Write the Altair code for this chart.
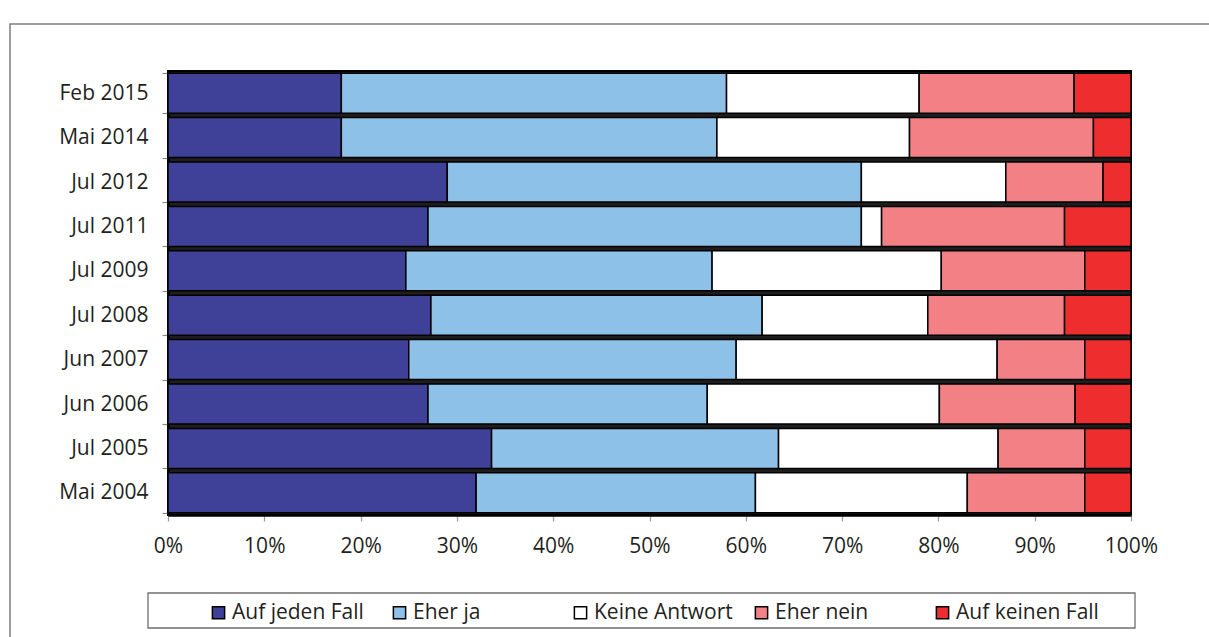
import altair as alt
import pandas as pd

# Survey waves, top to bottom
dates = ["Feb 2015", "Mai 2014", "Jul 2012", "Jul 2011", "Jul 2009",
         "Jul 2008", "Jun 2007", "Jun 2006", "Jul 2005", "Mai 2004"]

# Answer categories, left to right in each bar
categories = ["Auf jeden Fall", "Eher ja", "Keine Antwort", "Eher nein", "Auf keinen Fall"]
colors = ["#3f4199", "#8ec1e8", "#ffffff", "#f28084", "#ee2e2e"]

# Shares in percent per wave
auf_jeden_fall = [18, 18, 29, 27, 24.7, 27.3, 25, 27, 33.6, 32]
eher_ja = [40, 39, 43, 45, 31.8, 34.4, 34, 29, 29.8, 29]
keine_antwort = [20, 20, 15, 2.1, 23.8, 17.2, 27.1, 24.1, 22.8, 22]
eher_nein = [16.1, 19.1, 10.1, 19, 14.9, 14.2, 9.1, 14.1, 9, 12.2]
auf_keinen_fall = [5.9, 3.9, 2.9, 6.9, 4.8, 6.9, 4.8, 5.8, 4.8, 4.8]

x_ticks = [0, 0.1, 0.2, 0.3, 0.4, 0.5, 0.6, 0.7, 0.8, 0.9, 1.0]

series = [auf_jeden_fall, eher_ja, keine_antwort, eher_nein, auf_keinen_fall]
rows = []
for ci, (cat, vals) in enumerate(zip(categories, series)):
    for d, v in zip(dates, vals):
        rows.append({"Datum": d, "Antwort": cat, "Anteil": v, "Reihenfolge": ci})
df = pd.DataFrame(rows)

FONT = "Open Sans"
TEXT = "#231f20"
W, H = 963, 444
PAD_L, PAD_T = 168, 71

bars = alt.Chart(df).mark_bar(stroke="black", strokeWidth=1.5).encode(
    x=alt.X(
        "Anteil:Q",
        stack="normalize",
        scale=alt.Scale(domain=[0, 1], nice=False),
        axis=alt.Axis(values=x_ticks, format=".0%", title=None, grid=False,
                      domainColor="black", domainWidth=2.5,
                      tickColor="#9a9a9a", tickSize=6, tickWidth=1.2,
                      labelPadding=14, labelFlush=False),
    ),
    y=alt.Y(
        "Datum:N",
        sort=dates,
        scale=alt.Scale(paddingInner=0.1, paddingOuter=0.05),
        axis=alt.Axis(title=None, domainColor="black", domainWidth=2.5,
                      tickColor="#8a8a8a", tickSize=6, tickWidth=1.2,
                      tickBand="extent", labelPadding=14),
    ),
    color=alt.Color(
        "Antwort:N",
        scale=alt.Scale(domain=categories, range=colors),
        legend=alt.Legend(
            title=None, orient="none", legendX=40, legendY=531,
            direction="horizontal", columns=5, columnPadding=14,
            gridAlign="all",
            symbolType="square", symbolSize=150, symbolStrokeColor="black",
            symbolStrokeWidth=1.5, labelOffset=3,
            labelFont=FONT, labelFontSize=21, labelColor=TEXT,
        ),
    ),
    order=alt.Order("Reihenfolge:Q"),
)

one = pd.DataFrame({"k": [0]})

# Outer frame around the figure
frame = alt.Chart(one).mark_rect(filled=False, stroke="#7f7f7f", strokeWidth=1.5).encode(
    x=alt.value(10 - PAD_L), x2=alt.value(1300),
    y=alt.value(24 - PAD_T), y2=alt.value(700),
)

# Box around the legend
legend_box = alt.Chart(one).mark_rect(filled=False, stroke="#6f6f6f", strokeWidth=1.3).encode(
    x=alt.value(148 - PAD_L), x2=alt.value(1135 - PAD_L),
    y=alt.value(593 - PAD_T), y2=alt.value(628 - PAD_T),
)

chart = alt.layer(frame, bars, legend_box).properties(
    width=W, height=H,
    autosize=alt.AutoSizeParams(type="none"),
    padding={"left": PAD_L, "top": PAD_T, "right": 1209 - PAD_L - W, "bottom": 637 - PAD_T - H},
    background="white",
).configure_view(
    fill="#1e1e1e", stroke="black", strokeWidth=2,
).configure_axis(
    labelFont=FONT, labelFontSize=21, labelColor=TEXT,
)

chart.save("out.html", embed_options={"renderer": "svg", "actions": False})
